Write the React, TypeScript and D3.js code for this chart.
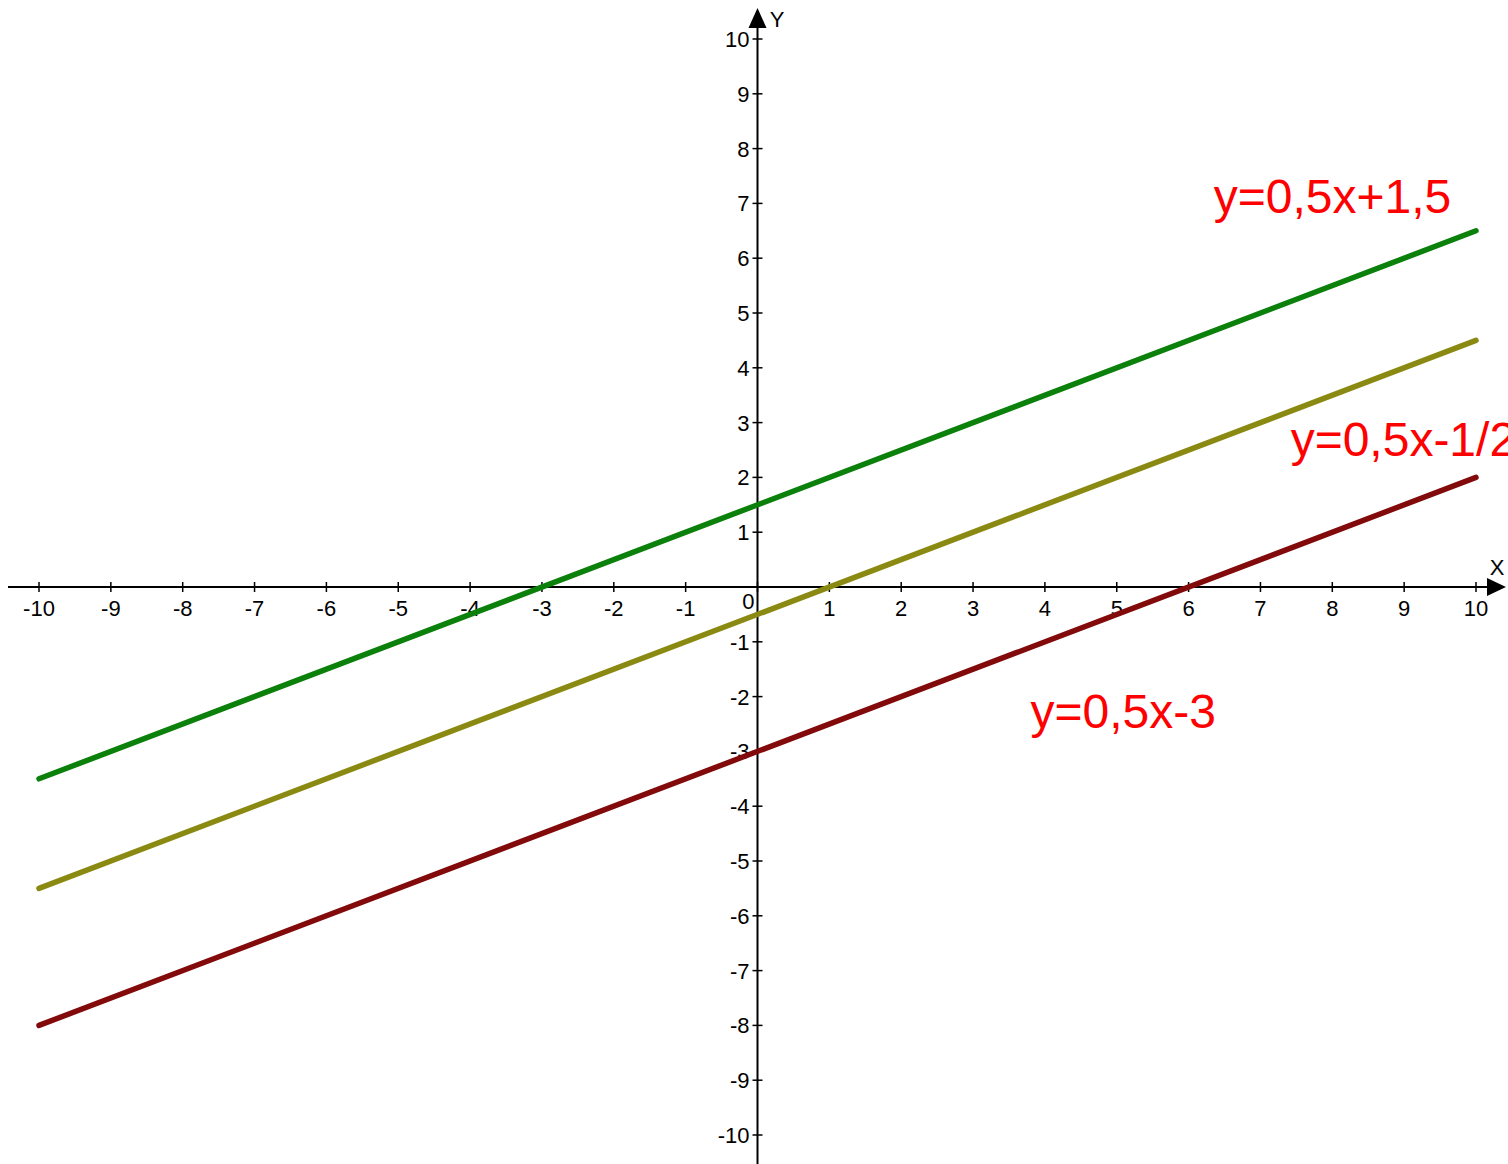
import React from 'react';
import { scaleLinear, line, range } from 'd3';

// lines y = k*x + b, drawn between x = -10 and x = 10
const lineNames = ['y=0,5x+1,5', 'y=0,5x-1/2', 'y=0,5x-3'];
const slopes = [0.5, 0.5, 0.5];
const intercepts = [1.5, -0.5, -3];
const lineColors = ['#0b800b', '#8a8a12', '#820a0a'];
const xDomain = [-10, 10];
const yDomain = [-10, 10];
const tickValues = range(-10, 11);
// where each formula label is anchored (data coordinates)
const labelX = [6.35, 7.42, 3.8];
const labelY = [6.82, 2.39, -2.57];

const W = 1508;
const H = 1164;

const App = () => {
    const x = scaleLinear().domain(xDomain).range([39, 1476]);
    const y = scaleLinear().domain(yDomain).range([1135, 39]);
    const x0 = x(0);
    const y0 = y(0);

    const path = line<number>()
        .x(d => x(d[0]))
        .y(d => y(d[1]));

    const font = 'Arial, "Liberation Sans", sans-serif';

    return (
        <svg width={W} height={H} style={{ position: 'absolute', left: 0, top: 0, background: '#fff' }}>
            {/* axes */}
            <line x1={8} x2={1490} y1={y0} y2={y0} stroke="#000" strokeWidth={2} />
            <line x1={x0} x2={x0} y1={24} y2={H} stroke="#000" strokeWidth={2} />
            <path d={`M${1506},${y0} L${1487},${y0 - 9} L${1487},${y0 + 9} Z`} fill="#000" />
            <path d={`M${x0},${8} L${x0 - 9},${28} L${x0 + 9},${28} Z`} fill="#000" />
            <text x={1497} y={y0 - 12} fontFamily={font} fontSize={22} textAnchor="middle">X</text>
            <text x={777} y={27} fontFamily={font} fontSize={22} textAnchor="middle">Y</text>

            {/* x ticks */}
            {tickValues.map(t => (
                <g key={'xt' + t}>
                    <line x1={x(t)} x2={x(t)} y1={y0 - 5} y2={y0 + 5} stroke="#000" strokeWidth={1.5} />
                    {t !== 0 && (
                        <text x={x(t)} y={y0 + 29} fontFamily={font} fontSize={22} textAnchor="middle">
                            {t < 0 ? '-' + Math.abs(t) : t}
                        </text>
                    )}
                </g>
            ))}
            <text x={x0 - 3} y={y0 + 22} fontFamily={font} fontSize={22} textAnchor="end">0</text>

            {/* y ticks */}
            {tickValues.filter(t => t !== 0).map(t => (
                <g key={'yt' + t}>
                    <line x1={x0 - 5} x2={x0 + 5} y1={y(t)} y2={y(t)} stroke="#000" strokeWidth={1.5} />
                    <text x={x0 - 8} y={y(t) + 8} fontFamily={font} fontSize={22} textAnchor="end">
                        {t < 0 ? '-' + Math.abs(t) : t}
                    </text>
                </g>
            ))}

            {/* the three lines */}
            {lineNames.map((name, i) => (
                <path
                    key={name}
                    d={path(xDomain.map(v => [v, slopes[i] * v + intercepts[i]] as [number, number])) || ''}
                    stroke={lineColors[i]}
                    strokeWidth={5.5}
                    strokeLinecap="round"
                    fill="none"
                />
            ))}

            {lineNames.map((name, i) => (
                <text key={'lbl' + name} x={x(labelX[i])} y={y(labelY[i])} fontFamily={font} fontSize={48} fill="#ff0000">
                    {name}
                </text>
            ))}
        </svg>
    );
};

export default App;
